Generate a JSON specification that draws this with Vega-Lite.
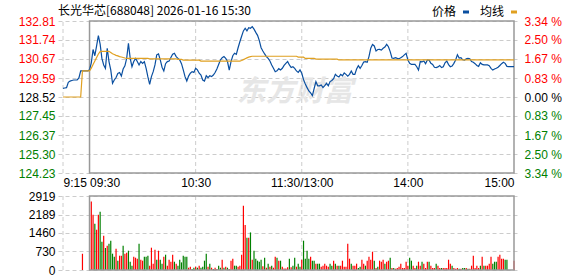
{
  "$schema": "https://vega.github.io/schema/vega-lite/v6.json",
  "width": 461,
  "height": 249,
  "autosize": {"type": "none"},
  "padding": {"left": 58, "top": 21, "right": 59, "bottom": 6},
  "background": "#ffffff",
  "config": {"view": {"stroke": null}, "font": "Liberation Sans"},
  "title": {"text": "长光华芯[688048] 2026-01-16 15:30", "anchor": "start", "frame": "group", "font": "Noto Sans CJK SC", "fontSize": 12, "fontWeight": "normal", "color": "#000000", "offset": 0, "dy": 12},
  "datasets": {
    "price": [
      {"t":0,"price":129.01,"avg":128.52},{"t":1,"price":129.03,"avg":128.52},{"t":2,"price":129.05,"avg":128.52},{"t":3,"price":129.35,"avg":128.52},{"t":4,"price":129.42,"avg":128.52},{"t":5,"price":129.45,"avg":128.52},{"t":6,"price":129.48,"avg":128.52},{"t":7,"price":129.48,"avg":128.52},{"t":8,"price":129.48,"avg":128.52},{"t":9,"price":129.60,"avg":128.52},{"t":10,"price":130.00,"avg":128.52},
      {"t":11,"price":130.00,"avg":130.00},{"t":12,"price":130.00,"avg":130.00},{"t":13,"price":130.00,"avg":130.00},{"t":14,"price":130.00,"avg":130.00},{"t":15,"price":130.05,"avg":130.00},
      {"t":16,"price":130.45,"avg":130.15},{"t":17,"price":131.20,"avg":130.35},{"t":18,"price":130.85,"avg":130.55},{"t":19,"price":131.40,"avg":130.75},{"t":20,"price":131.98,"avg":130.95},{"t":21,"price":131.50,"avg":131.08},{"t":22,"price":130.70,"avg":131.10},{"t":23,"price":130.33,"avg":131.10},{"t":24,"price":130.14,"avg":131.10},{"t":25,"price":131.27,"avg":131.10},{"t":26,"price":130.52,"avg":131.10},{"t":27,"price":130.05,"avg":131.03},{"t":28,"price":129.29,"avg":130.96},{"t":29,"price":129.48,"avg":130.92},{"t":30,"price":129.62,"avg":130.87},{"t":31,"price":129.85,"avg":130.84},{"t":32,"price":129.90,"avg":130.80},{"t":33,"price":129.70,"avg":130.78},{"t":34,"price":130.10,"avg":130.75},{"t":35,"price":130.28,"avg":130.72},
      {"t":36,"price":130.70,"avg":130.70},{"t":37,"price":131.55,"avg":130.70},{"t":38,"price":130.70,"avg":130.70},{"t":39,"price":130.23,"avg":130.70},{"t":40,"price":130.52,"avg":130.70},{"t":41,"price":130.70,"avg":130.70},{"t":42,"price":130.52,"avg":130.70},{"t":43,"price":130.33,"avg":130.70},{"t":44,"price":130.52,"avg":130.70},{"t":45,"price":130.42,"avg":130.70},{"t":46,"price":130.52,"avg":130.70},{"t":47,"price":130.14,"avg":130.70},{"t":48,"price":129.65,"avg":130.70},
      {"t":49,"price":129.23,"avg":130.67},{"t":50,"price":129.67,"avg":130.67},{"t":51,"price":129.95,"avg":130.67},{"t":52,"price":130.33,"avg":130.67},{"t":53,"price":130.90,"avg":130.67},{"t":54,"price":130.95,"avg":130.67},{"t":55,"price":130.61,"avg":130.67},{"t":56,"price":130.20,"avg":130.67},{"t":57,"price":129.99,"avg":130.67},{"t":58,"price":130.40,"avg":130.67},{"t":59,"price":130.52,"avg":130.67},{"t":60,"price":130.55,"avg":130.67},{"t":61,"price":130.75,"avg":130.67},{"t":62,"price":130.93,"avg":130.67},{"t":63,"price":130.99,"avg":130.67},{"t":64,"price":130.80,"avg":130.67},
      {"t":65,"price":130.70,"avg":130.64},{"t":66,"price":130.61,"avg":130.64},{"t":67,"price":130.40,"avg":130.64},
      {"t":68,"price":130.05,"avg":130.60},{"t":69,"price":129.67,"avg":130.60},{"t":70,"price":129.42,"avg":130.60},{"t":71,"price":129.70,"avg":130.60},{"t":72,"price":129.86,"avg":130.60},{"t":73,"price":129.95,"avg":130.60},{"t":74,"price":129.91,"avg":130.60},{"t":75,"price":130.14,"avg":130.60},{"t":76,"price":130.05,"avg":130.60},{"t":77,"price":129.86,"avg":130.60},
      {"t":78,"price":129.76,"avg":130.55},{"t":79,"price":129.48,"avg":130.55},{"t":80,"price":129.42,"avg":130.55},{"t":81,"price":129.72,"avg":130.55},{"t":82,"price":129.61,"avg":130.55},{"t":83,"price":129.72,"avg":130.55},{"t":84,"price":129.67,"avg":130.55},{"t":85,"price":129.76,"avg":130.55},{"t":86,"price":129.90,"avg":130.55},{"t":87,"price":130.10,"avg":130.55},{"t":88,"price":130.35,"avg":130.55},{"t":89,"price":130.61,"avg":130.55},{"t":90,"price":130.74,"avg":130.55},{"t":91,"price":130.80,"avg":130.55},{"t":92,"price":130.70,"avg":130.55},{"t":93,"price":130.52,"avg":130.55},{"t":94,"price":130.04,"avg":130.55},{"t":95,"price":130.52,"avg":130.55},{"t":96,"price":130.85,"avg":130.55},{"t":97,"price":130.99,"avg":130.55},{"t":98,"price":130.93,"avg":130.55},{"t":99,"price":131.30,"avg":130.55},{"t":100,"price":131.64,"avg":130.55},
      {"t":101,"price":131.95,"avg":130.58},{"t":102,"price":132.25,"avg":130.63},{"t":103,"price":132.40,"avg":130.68},{"t":104,"price":132.25,"avg":130.73},{"t":105,"price":132.43,"avg":130.77},{"t":106,"price":132.40,"avg":130.80},
      {"t":107,"price":132.49,"avg":130.82},{"t":108,"price":132.35,"avg":130.82},{"t":109,"price":132.17,"avg":130.82},{"t":110,"price":132.00,"avg":130.82},{"t":111,"price":131.70,"avg":130.82},{"t":112,"price":131.30,"avg":130.82},{"t":113,"price":131.12,"avg":130.82},{"t":114,"price":130.95,"avg":130.82},{"t":115,"price":130.80,"avg":130.82},{"t":116,"price":130.70,"avg":130.82},{"t":117,"price":130.55,"avg":130.82},{"t":118,"price":130.33,"avg":130.82},{"t":119,"price":130.14,"avg":130.82},{"t":120,"price":129.95,"avg":130.82},{"t":121,"price":130.00,"avg":130.82},{"t":122,"price":130.12,"avg":130.82},{"t":123,"price":130.05,"avg":130.82},{"t":124,"price":130.14,"avg":130.82},{"t":125,"price":130.30,"avg":130.82},{"t":126,"price":130.42,"avg":130.82},{"t":127,"price":130.52,"avg":130.82},{"t":128,"price":130.33,"avg":130.82},{"t":129,"price":130.18,"avg":130.82},{"t":130,"price":130.23,"avg":130.82},{"t":131,"price":130.14,"avg":130.82},{"t":132,"price":129.99,"avg":130.82},
      {"t":133,"price":129.91,"avg":130.77},{"t":134,"price":130.05,"avg":130.77},{"t":135,"price":129.86,"avg":130.77},{"t":136,"price":129.50,"avg":130.77},
      {"t":137,"price":129.25,"avg":130.70},{"t":138,"price":129.05,"avg":130.70},{"t":139,"price":128.86,"avg":130.70},{"t":140,"price":128.75,"avg":130.70},{"t":141,"price":128.60,"avg":130.70},{"t":142,"price":129.00,"avg":130.70},
      {"t":143,"price":129.39,"avg":130.66},{"t":144,"price":129.15,"avg":130.66},{"t":145,"price":129.15,"avg":130.66},{"t":146,"price":129.20,"avg":130.66},{"t":147,"price":129.05,"avg":130.66},{"t":148,"price":129.16,"avg":130.66},{"t":149,"price":129.29,"avg":130.66},{"t":150,"price":129.15,"avg":130.66},{"t":151,"price":129.39,"avg":130.66},{"t":152,"price":129.45,"avg":130.66},{"t":153,"price":129.55,"avg":130.66},{"t":154,"price":129.80,"avg":130.66},{"t":155,"price":129.70,"avg":130.66},
      {"t":156,"price":129.65,"avg":130.61},{"t":157,"price":129.80,"avg":130.61},{"t":158,"price":129.72,"avg":130.61},{"t":159,"price":129.88,"avg":130.61},{"t":160,"price":129.80,"avg":130.61},{"t":161,"price":129.70,"avg":130.61},{"t":162,"price":129.80,"avg":130.61},{"t":163,"price":129.99,"avg":130.61},{"t":164,"price":129.80,"avg":130.61},{"t":165,"price":129.80,"avg":130.61},{"t":166,"price":130.10,"avg":130.61},{"t":167,"price":130.29,"avg":130.61},{"t":168,"price":130.14,"avg":130.61},{"t":169,"price":130.30,"avg":130.61},{"t":170,"price":130.50,"avg":130.61},{"t":171,"price":130.52,"avg":130.61},{"t":172,"price":130.48,"avg":130.61},{"t":173,"price":130.80,"avg":130.61},{"t":174,"price":131.27,"avg":130.61},{"t":175,"price":131.48,"avg":130.61},{"t":176,"price":131.40,"avg":130.61},{"t":177,"price":131.12,"avg":130.61},{"t":178,"price":131.20,"avg":130.61},{"t":179,"price":131.21,"avg":130.61},{"t":180,"price":131.17,"avg":130.61},{"t":181,"price":131.27,"avg":130.61},{"t":182,"price":131.34,"avg":130.61},{"t":183,"price":131.49,"avg":130.61},{"t":184,"price":131.36,"avg":130.61},{"t":185,"price":131.08,"avg":130.61},{"t":186,"price":130.72,"avg":130.61},{"t":187,"price":130.70,"avg":130.61},{"t":188,"price":130.74,"avg":130.61},{"t":189,"price":130.70,"avg":130.61},{"t":190,"price":130.68,"avg":130.61},{"t":191,"price":130.74,"avg":130.61},{"t":192,"price":130.80,"avg":130.61},{"t":193,"price":130.90,"avg":130.61},{"t":194,"price":130.99,"avg":130.61},{"t":195,"price":130.61,"avg":130.61},{"t":196,"price":130.42,"avg":130.61},{"t":197,"price":130.36,"avg":130.61},{"t":198,"price":130.36,"avg":130.61},{"t":199,"price":130.36,"avg":130.61},{"t":200,"price":130.23,"avg":130.61},{"t":201,"price":130.04,"avg":130.61},{"t":202,"price":130.52,"avg":130.61},{"t":203,"price":130.50,"avg":130.61},{"t":204,"price":130.55,"avg":130.61},{"t":205,"price":130.40,"avg":130.61},{"t":206,"price":130.61,"avg":130.61},{"t":207,"price":130.60,"avg":130.61},{"t":208,"price":130.42,"avg":130.61},{"t":209,"price":130.36,"avg":130.61},{"t":210,"price":130.20,"avg":130.61},{"t":211,"price":130.18,"avg":130.61},{"t":212,"price":130.22,"avg":130.61},{"t":213,"price":130.30,"avg":130.61},{"t":214,"price":130.18,"avg":130.61},{"t":215,"price":130.23,"avg":130.61},{"t":216,"price":130.45,"avg":130.61},{"t":217,"price":130.55,"avg":130.61},{"t":218,"price":130.35,"avg":130.61},{"t":219,"price":130.23,"avg":130.61},{"t":220,"price":130.27,"avg":130.61},{"t":221,"price":130.42,"avg":130.61},{"t":222,"price":130.61,"avg":130.61},{"t":223,"price":130.91,"avg":130.61},{"t":224,"price":130.72,"avg":130.61},{"t":225,"price":130.74,"avg":130.61},{"t":226,"price":130.62,"avg":130.61},{"t":227,"price":130.60,"avg":130.61},{"t":228,"price":130.67,"avg":130.61},{"t":229,"price":130.70,"avg":130.61},{"t":230,"price":130.68,"avg":130.61},{"t":231,"price":130.52,"avg":130.61},{"t":232,"price":130.48,"avg":130.61},{"t":233,"price":130.40,"avg":130.61},{"t":234,"price":130.30,"avg":130.61},{"t":235,"price":130.25,"avg":130.61},{"t":236,"price":130.45,"avg":130.61},{"t":237,"price":130.36,"avg":130.61},{"t":238,"price":130.33,"avg":130.61},{"t":239,"price":130.33,"avg":130.61},{"t":240,"price":130.33,"avg":130.61},{"t":241,"price":130.29,"avg":130.61},{"t":242,"price":130.14,"avg":130.61},{"t":243,"price":130.04,"avg":130.61},{"t":244,"price":130.10,"avg":130.61},{"t":245,"price":130.14,"avg":130.61},{"t":246,"price":130.20,"avg":130.61},{"t":247,"price":130.30,"avg":130.61},{"t":248,"price":130.40,"avg":130.61},{"t":249,"price":130.48,"avg":130.61},{"t":250,"price":130.42,"avg":130.61},{"t":251,"price":130.25,"avg":130.61},{"t":252,"price":130.23,"avg":130.61},{"t":253,"price":130.23,"avg":130.61},{"t":254,"price":130.23,"avg":130.61},{"t":255,"price":130.23,"avg":130.61}
    ],
    "vol": [
      {"t":11,"vol":640,"dir":"up"},
      {"t":16,"vol":2706,"dir":"up"},{"t":17,"vol":2182,"dir":"up"},{"t":18,"vol":1827,"dir":"down"},{"t":19,"vol":1590,"dir":"up"},{"t":20,"vol":2182,"dir":"up"},{"t":21,"vol":2300,"dir":"down"},{"t":22,"vol":1117,"dir":"down"},{"t":23,"vol":1353,"dir":"up"},{"t":24,"vol":868,"dir":"down"},{"t":25,"vol":959,"dir":"up"},{"t":26,"vol":1038,"dir":"down"},{"t":27,"vol":1156,"dir":"down"},{"t":28,"vol":643,"dir":"down"},{"t":29,"vol":525,"dir":"down"},{"t":30,"vol":840,"dir":"up"},{"t":31,"vol":367,"dir":"down"},{"t":32,"vol":564,"dir":"up"},{"t":33,"vol":564,"dir":"up"},{"t":34,"vol":959,"dir":"down"},{"t":35,"vol":643,"dir":"up"},{"t":36,"vol":682,"dir":"up"},{"t":37,"vol":761,"dir":"down"},{"t":38,"vol":327,"dir":"down"},{"t":39,"vol":170,"dir":"down"},{"t":40,"vol":525,"dir":"up"},
      {"t":41,"vol":485,"dir":"up"},{"t":42,"vol":446,"dir":"up"},{"t":43,"vol":1038,"dir":"down"},{"t":44,"vol":406,"dir":"up"},{"t":45,"vol":367,"dir":"up"},{"t":46,"vol":525,"dir":"down"},{"t":47,"vol":525,"dir":"down"},{"t":48,"vol":564,"dir":"down"},{"t":49,"vol":170,"dir":"up"},{"t":50,"vol":880,"dir":"up"},{"t":51,"vol":249,"dir":"up"},{"t":52,"vol":801,"dir":"up"},{"t":53,"vol":406,"dir":"down"},{"t":54,"vol":761,"dir":"up"},{"t":55,"vol":406,"dir":"down"},{"t":56,"vol":249,"dir":"down"},{"t":57,"vol":525,"dir":"up"},{"t":58,"vol":604,"dir":"down"},{"t":59,"vol":170,"dir":"up"},{"t":60,"vol":406,"dir":"up"},{"t":61,"vol":327,"dir":"up"},{"t":62,"vol":604,"dir":"up"},{"t":63,"vol":327,"dir":"down"},{"t":64,"vol":249,"dir":"up"},{"t":65,"vol":170,"dir":"down"},{"t":66,"vol":406,"dir":"down"},{"t":67,"vol":300,"dir":"down"},{"t":68,"vol":564,"dir":"down"},{"t":69,"vol":525,"dir":"down"},{"t":70,"vol":525,"dir":"down"},
      {"t":71,"vol":90,"dir":"up"},{"t":72,"vol":130,"dir":"up"},{"t":73,"vol":40,"dir":"down"},{"t":74,"vol":90,"dir":"down"},{"t":75,"vol":130,"dir":"up"},{"t":76,"vol":90,"dir":"down"},{"t":77,"vol":170,"dir":"up"},{"t":78,"vol":90,"dir":"down"},{"t":79,"vol":130,"dir":"down"},{"t":80,"vol":367,"dir":"down"},{"t":81,"vol":643,"dir":"down"},{"t":82,"vol":130,"dir":"up"},{"t":83,"vol":249,"dir":"down"},{"t":84,"vol":90,"dir":"up"},{"t":85,"vol":40,"dir":"down"},{"t":86,"vol":90,"dir":"up"},{"t":87,"vol":40,"dir":"up"},{"t":88,"vol":170,"dir":"down"},{"t":89,"vol":90,"dir":"down"},{"t":90,"vol":406,"dir":"up"},{"t":91,"vol":90,"dir":"down"},{"t":92,"vol":130,"dir":"up"},{"t":93,"vol":90,"dir":"down"},{"t":94,"vol":40,"dir":"up"},{"t":95,"vol":367,"dir":"up"},{"t":96,"vol":446,"dir":"up"},{"t":97,"vol":170,"dir":"down"},{"t":98,"vol":170,"dir":"down"},{"t":99,"vol":130,"dir":"up"},{"t":100,"vol":170,"dir":"up"},{"t":101,"vol":604,"dir":"up"},
      {"t":102,"vol":2537,"dir":"up"},{"t":103,"vol":1775,"dir":"up"},{"t":104,"vol":1274,"dir":"down"},{"t":105,"vol":1274,"dir":"up"},{"t":106,"vol":1483,"dir":"down"},{"t":107,"vol":406,"dir":"up"},{"t":108,"vol":761,"dir":"down"},{"t":109,"vol":446,"dir":"down"},{"t":110,"vol":367,"dir":"down"},{"t":111,"vol":327,"dir":"down"},{"t":112,"vol":406,"dir":"down"},{"t":113,"vol":150,"dir":"up"},{"t":114,"vol":485,"dir":"down"},{"t":115,"vol":90,"dir":"up"},{"t":116,"vol":249,"dir":"down"},{"t":117,"vol":130,"dir":"up"},{"t":118,"vol":170,"dir":"down"},{"t":119,"vol":90,"dir":"up"},{"t":120,"vol":525,"dir":"up"},{"t":121,"vol":485,"dir":"down"},{"t":122,"vol":367,"dir":"up"},{"t":123,"vol":367,"dir":"down"},{"t":124,"vol":130,"dir":"up"},{"t":125,"vol":60,"dir":"up"},{"t":126,"vol":60,"dir":"up"},{"t":127,"vol":110,"dir":"up"},{"t":128,"vol":446,"dir":"down"},{"t":129,"vol":110,"dir":"up"},{"t":130,"vol":170,"dir":"down"},{"t":131,"vol":485,"dir":"down"},{"t":132,"vol":130,"dir":"up"},{"t":133,"vol":249,"dir":"down"},{"t":134,"vol":130,"dir":"down"},{"t":135,"vol":406,"dir":"up"},
      {"t":136,"vol":1156,"dir":"down"},{"t":137,"vol":446,"dir":"down"},{"t":138,"vol":761,"dir":"down"},{"t":139,"vol":446,"dir":"down"},{"t":140,"vol":525,"dir":"up"},{"t":141,"vol":367,"dir":"down"},{"t":142,"vol":367,"dir":"down"},{"t":143,"vol":249,"dir":"up"},{"t":144,"vol":249,"dir":"down"},{"t":145,"vol":249,"dir":"down"},{"t":146,"vol":130,"dir":"up"},{"t":147,"vol":170,"dir":"up"},{"t":148,"vol":249,"dir":"up"},{"t":149,"vol":170,"dir":"up"},{"t":150,"vol":130,"dir":"up"},{"t":151,"vol":249,"dir":"down"},{"t":152,"vol":170,"dir":"down"},{"t":153,"vol":367,"dir":"up"},{"t":154,"vol":249,"dir":"down"},{"t":155,"vol":170,"dir":"up"},{"t":156,"vol":170,"dir":"down"},{"t":157,"vol":170,"dir":"up"},{"t":158,"vol":367,"dir":"up"},{"t":159,"vol":130,"dir":"up"},{"t":160,"vol":130,"dir":"up"},{"t":161,"vol":1038,"dir":"up"},{"t":162,"vol":446,"dir":"up"},{"t":163,"vol":249,"dir":"down"},{"t":164,"vol":170,"dir":"up"},{"t":165,"vol":170,"dir":"up"},{"t":166,"vol":249,"dir":"up"},{"t":167,"vol":80,"dir":"down"},{"t":168,"vol":130,"dir":"down"},{"t":169,"vol":406,"dir":"up"},{"t":170,"vol":249,"dir":"up"},{"t":171,"vol":170,"dir":"down"},{"t":172,"vol":367,"dir":"up"},{"t":173,"vol":525,"dir":"up"},{"t":174,"vol":406,"dir":"up"},{"t":175,"vol":722,"dir":"up"},{"t":176,"vol":367,"dir":"down"},{"t":177,"vol":80,"dir":"up"},{"t":178,"vol":130,"dir":"down"},{"t":179,"vol":367,"dir":"up"},{"t":180,"vol":327,"dir":"up"},{"t":181,"vol":406,"dir":"up"},{"t":182,"vol":249,"dir":"down"},{"t":183,"vol":327,"dir":"up"},{"t":184,"vol":367,"dir":"up"},{"t":185,"vol":485,"dir":"down"},{"t":186,"vol":80,"dir":"up"},{"t":187,"vol":80,"dir":"down"},{"t":188,"vol":50,"dir":"up"},{"t":189,"vol":80,"dir":"up"},{"t":190,"vol":130,"dir":"up"},{"t":191,"vol":249,"dir":"up"},{"t":192,"vol":80,"dir":"up"},{"t":193,"vol":80,"dir":"up"},{"t":194,"vol":327,"dir":"up"},{"t":195,"vol":170,"dir":"up"},
      {"t":196,"vol":485,"dir":"down"},{"t":197,"vol":367,"dir":"down"},{"t":198,"vol":170,"dir":"up"},{"t":199,"vol":80,"dir":"up"},{"t":200,"vol":170,"dir":"down"},{"t":201,"vol":327,"dir":"up"},{"t":202,"vol":170,"dir":"up"},{"t":203,"vol":327,"dir":"down"},{"t":204,"vol":249,"dir":"up"},{"t":205,"vol":80,"dir":"up"},{"t":206,"vol":327,"dir":"up"},{"t":207,"vol":327,"dir":"down"},{"t":208,"vol":170,"dir":"up"},{"t":209,"vol":80,"dir":"up"},{"t":210,"vol":80,"dir":"up"},{"t":211,"vol":249,"dir":"down"},{"t":212,"vol":170,"dir":"up"},{"t":213,"vol":80,"dir":"up"},{"t":214,"vol":80,"dir":"down"},{"t":215,"vol":80,"dir":"up"},{"t":216,"vol":80,"dir":"up"},{"t":217,"vol":80,"dir":"up"},{"t":218,"vol":406,"dir":"up"},{"t":219,"vol":250,"dir":"up"},{"t":220,"vol":170,"dir":"down"},{"t":221,"vol":80,"dir":"up"},{"t":222,"vol":50,"dir":"up"},{"t":223,"vol":80,"dir":"up"},{"t":224,"vol":50,"dir":"down"},{"t":225,"vol":50,"dir":"up"},{"t":226,"vol":80,"dir":"down"},{"t":227,"vol":80,"dir":"down"},{"t":228,"vol":80,"dir":"up"},{"t":229,"vol":50,"dir":"down"},{"t":230,"vol":50,"dir":"up"},{"t":231,"vol":170,"dir":"up"},{"t":232,"vol":564,"dir":"up"},{"t":233,"vol":80,"dir":"up"},{"t":234,"vol":170,"dir":"up"},{"t":235,"vol":80,"dir":"up"},{"t":236,"vol":170,"dir":"down"},{"t":237,"vol":525,"dir":"up"},{"t":238,"vol":170,"dir":"down"},{"t":239,"vol":170,"dir":"up"},{"t":240,"vol":170,"dir":"up"},{"t":241,"vol":249,"dir":"up"},{"t":242,"vol":525,"dir":"up"},{"t":243,"vol":249,"dir":"down"},{"t":244,"vol":327,"dir":"down"},{"t":245,"vol":327,"dir":"down"},{"t":246,"vol":525,"dir":"up"},{"t":247,"vol":604,"dir":"up"},{"t":248,"vol":446,"dir":"up"},{"t":249,"vol":446,"dir":"up"},{"t":250,"vol":406,"dir":"down"},{"t":251,"vol":406,"dir":"down"},{"t":255,"vol":367,"dir":"up"}
    ],
    "vgrid": [{"t":0},{"t":75},{"t":135},{"t":195}],
    "one": [{"name":"东方财富"}]
  },
  "layer": [
    {
      "layer": [
        {
          "data": {"name": "one"},
          "mark": {"type": "text", "font": "Noto Sans CJK SC", "fontSize": 29, "fontWeight": "bold", "fontStyle": "italic", "color": "#e6e6e6", "align": "center", "baseline": "middle"},
          "encoding": {
            "x": {"datum": 131, "type": "quantitative", "scale": {"domain": [0, 255], "nice": false, "zero": false}, "axis": {"title": null}},
            "y": {"datum": 128.8, "type": "quantitative", "scale": {"domain": [124.23, 132.81], "range": [152, 0], "nice": false, "zero": false}, "axis": null},
            "text": {"field": "name"}
          }
        },
        {
          "data": {"name": "vgrid"},
          "mark": {"type": "rule", "color": "#cccccc", "strokeDash": [4, 3], "strokeWidth": 1},
          "encoding": {
            "x": {"field": "t", "type": "quantitative", "scale": {"domain": [0, 255], "nice": false, "zero": false}, "axis": {"title": null}},
            "y": {"datum": 124.23, "type": "quantitative", "scale": {"domain": [124.23, 132.81], "range": [152, 0], "nice": false, "zero": false}, "axis": null},
            "y2": {"datum": 132.81}
          }
        },
        {
          "data": {"name": "one"},
          "mark": {"type": "rect", "fillOpacity": 0, "stroke": "#999999", "strokeWidth": 1.5},
          "encoding": {
            "x": {"datum": 15, "type": "quantitative", "scale": {"domain": [0, 255], "nice": false, "zero": false}, "axis": {"title": null}},
            "x2": {"datum": 255},
            "y": {"datum": 124.23, "type": "quantitative", "scale": {"domain": [124.23, 132.81], "range": [152, 0], "nice": false, "zero": false}, "axis": null},
            "y2": {"datum": 132.81}
          }
        },
        {
          "data": {"name": "price"},
          "mark": {"type": "line", "strokeWidth": 1.2},
          "encoding": {
            "x": {"field": "t", "type": "quantitative", "scale": {"domain": [0, 255], "nice": false, "zero": false},
              "axis": {"orient": "bottom", "offset": -97, "values": [0, 15, 75, 135, 195, 255], "labelExpr": "datum.value == 0 ? '9:15' : datum.value == 15 ? '09:30' : datum.value == 75 ? '10:30' : datum.value == 135 ? '11:30/13:00' : datum.value == 195 ? '14:00' : '15:00'", "domain": false, "ticks": false, "tickSize": 0, "grid": false, "labelPadding": 9, "labelBaseline": "middle", "labelFontSize": 12, "labelFont": "Liberation Sans", "labelColor": "#000000", "labelAlign": {"condition": [{"test": "datum.value <= 15", "value": "left"}, {"test": "datum.value >= 255", "value": "right"}], "value": "center"}, "labelOverlap": false, "labelFlush": false, "labelBound": false, "title": null}},
            "y": {"field": "price", "type": "quantitative", "scale": {"domain": [124.23, 132.81], "range": [152, 0], "nice": false, "zero": false},
              "axis": {"orient": "left", "values": [124.23, 125.30, 126.37, 127.45, 128.52, 129.59, 130.67, 131.74, 132.81], "format": ".2f", "domain": false, "ticks": false, "tickSize": 0, "labelPadding": 3, "labelFontSize": 12, "labelFont": "Liberation Sans", "labelColor": {"condition": [{"test": "datum.value > 128.6", "value": "#ff0000"}, {"test": "datum.value < 128.4", "value": "#008000"}], "value": "#000000"}, "grid": true, "gridColor": "#cccccc", "gridDash": [4, 3], "gridWidth": 1, "labelOverlap": false, "labelFlush": false, "labelBound": false, "title": null}},
            "color": {"datum": "价格", "type": "nominal", "scale": {"domain": ["价格", "均线"], "range": ["#0a4fa0", "#e0a020"]},
              "legend": {"orient": "none", "legendX": 374, "legendY": -15, "direction": "horizontal", "title": null, "labelFont": "Noto Sans CJK SC", "labelFontSize": 12, "labelColor": "#000000", "symbolType": "stroke", "symbolSize": 36, "symbolStrokeWidth": 3, "symbolOffset": 28, "labelOffset": -40, "columnPadding": 5, "padding": 0}}
          }
        },
        {
          "data": {"name": "price"},
          "mark": {"type": "line", "strokeWidth": 1.2},
          "encoding": {
            "x": {"field": "t", "type": "quantitative", "scale": {"domain": [0, 255], "nice": false, "zero": false}, "axis": {"title": null}},
            "y": {"field": "avg", "type": "quantitative", "scale": {"domain": [124.23, 132.81], "range": [152, 0], "nice": false, "zero": false},
              "axis": {"orient": "right", "values": [124.23, 125.30, 126.37, 127.45, 128.52, 129.59, 130.67, 131.74, 132.81], "labelExpr": "format(abs(round((datum.value - 128.52) / 1.0725)) * 0.8345, '.2f') + ' %'", "domain": false, "ticks": false, "tickSize": 0, "labelPadding": 5, "labelFontSize": 12, "labelFont": "Liberation Sans", "labelColor": {"condition": [{"test": "datum.value > 128.6", "value": "#ff0000"}, {"test": "datum.value < 128.4", "value": "#008000"}], "value": "#000000"}, "grid": false, "labelOverlap": false, "labelFlush": false, "labelBound": false, "title": null}},
            "color": {"datum": "均线", "type": "nominal"}
          }
        }
      ],
      "resolve": {"axis": {"y": "independent"}}
    },
    {
      "layer": [
        {
          "data": {"name": "vgrid"},
          "mark": {"type": "rule", "color": "#cccccc", "strokeDash": [4, 3], "strokeWidth": 1},
          "encoding": {
            "x": {"field": "t", "type": "quantitative", "scale": {"domain": [0, 255], "nice": false, "zero": false}, "axis": {"title": null}},
            "y": {"datum": 0, "type": "quantitative", "scale": {"domain": [0, 2919], "range": [249, 175], "nice": false, "zero": false}, "axis": {"title": null}},
            "y2": {"datum": 2919}
          }
        },
        {
          "data": {"name": "vol"},
          "mark": {"type": "bar", "width": 1.2},
          "encoding": {
            "x": {"field": "t", "type": "quantitative", "scale": {"domain": [0, 255], "nice": false, "zero": false}, "axis": {"title": null}},
            "y": {"field": "vol", "type": "quantitative", "scale": {"domain": [0, 2919], "range": [249, 175], "nice": false, "zero": false},
              "axis": {"orient": "left", "values": [0, 730, 1460, 2189, 2919], "format": "d", "domain": false, "ticks": false, "tickSize": 0, "labelPadding": 3, "labelFontSize": 12, "labelFont": "Liberation Sans", "labelColor": "#000000", "grid": true, "gridColor": "#cccccc", "gridDash": [4, 3], "gridWidth": 1, "labelOverlap": false, "labelFlush": false, "labelBound": false, "title": null}},
            "fill": {"field": "dir", "type": "nominal", "scale": {"domain": ["up", "down"], "range": ["#ff0000", "#008000"]}, "legend": null}
          }
        },
        {
          "data": {"name": "one"},
          "mark": {"type": "rect", "fillOpacity": 0, "stroke": "#999999", "strokeWidth": 1.5},
          "encoding": {
            "x": {"datum": 15, "type": "quantitative", "scale": {"domain": [0, 255], "nice": false, "zero": false}, "axis": {"title": null}},
            "x2": {"datum": 255},
            "y": {"datum": 0, "type": "quantitative", "scale": {"domain": [0, 2919], "range": [249, 175], "nice": false, "zero": false}, "axis": {"title": null}},
            "y2": {"datum": 2919}
          }
        }
      ]
    }
  ],
  "resolve": {"scale": {"y": "independent"}}
}
